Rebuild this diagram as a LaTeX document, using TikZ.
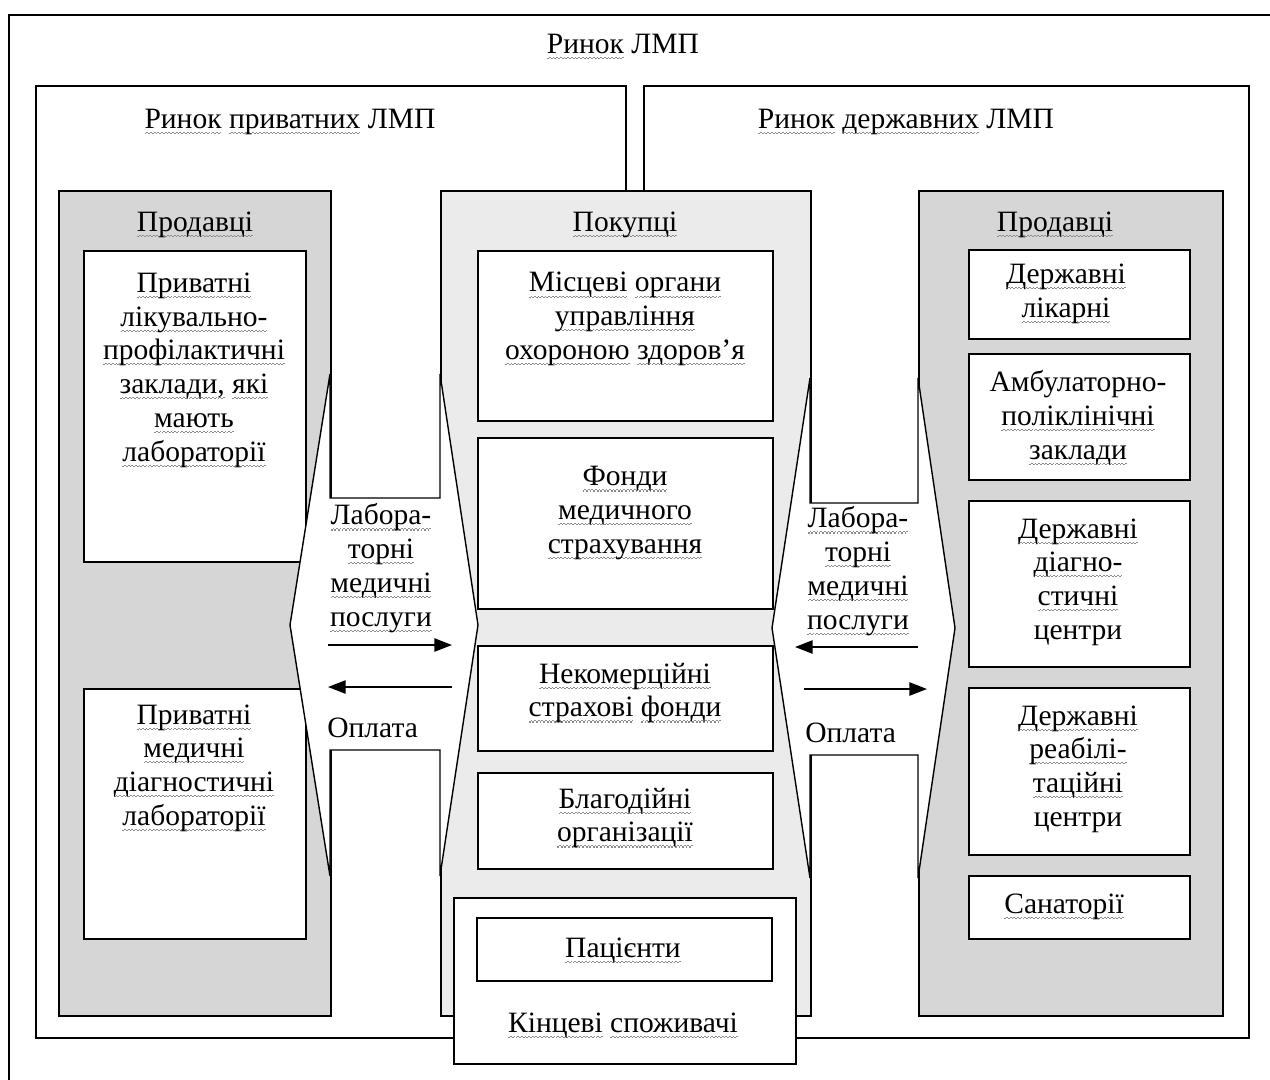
\documentclass[tikz,border=0pt]{standalone}
\usepackage{fontspec}
\setmainfont{Liberation Serif}
\usetikzlibrary{arrows.meta}
\newsavebox\sqbox
\newcommand\sq[1]{\leavevmode\sbox\sqbox{#1}%
  \rlap{\textcolor{black!45}{\raisebox{-3.2pt}{\hbox to \wd\sqbox{\xleaders\hbox to 2pt{\rule[0pt]{1pt}{0.6pt}\rule[0.6pt]{1pt}{0.6pt}}\hfill}}}}%
  \usebox\sqbox}
\begin{document}
\begin{tikzpicture}[x=0.02cm,y=-0.02cm,
 box/.style={draw, line width=1.1pt, fill=white, inner sep=0pt, anchor=north west},
 panel/.style={box, fill=black!16},
 buyer/.style={box, fill=black!8},
 txt/.style={align=center, inner sep=0pt, font=\fontsize{16.8}{19.2}\selectfont,
   execute at begin node=\strut, execute at end node=\strut},
 flow/.style={line width=1pt, -{Triangle[length=10pt,width=7.5pt]}},
 bigarrow/.style={draw, line width=0.8pt, fill=white, line join=miter}]
\useasboundingbox (0,0) rectangle (1270,1079);
\clip (0,0) rectangle (1270,1079);
% frames
\node[box, minimum width=25.64cm, minimum height=21.72cm] (outer) at (8,14) {};
\node[txt] (tall) at (623,47) {\sq{Ринок} ЛМП};
\node[box, minimum width=11.8cm, minimum height=19.04cm] (priv) at (35,85) {};
\node[txt] (tpriv) at (290,122) {\sq{Ринок} \sq{приватних} ЛМП};
\node[box, minimum width=12.1cm, minimum height=19.04cm] (state) at (643,85) {};
\node[txt] (tstate) at (906,122) {\sq{Ринок} \sq{державних} ЛМП};
% panels
\node[panel, minimum width=5.44cm, minimum height=16.5cm] (lsell) at (58,190) {};
\node[txt] (tlsell) at (195,225) {\sq{Продавці}};
\node[panel, minimum width=6.08cm, minimum height=16.5cm] (rsell) at (918,190) {};
\node[txt] (trsell) at (1055,225) {\sq{Продавці}};
\node[buyer, minimum width=7.4cm, minimum height=16.5cm] (buy) at (440,190) {};
\node[txt] (tbuy) at (625,225) {\sq{Покупці}};
% left sellers
\node[box, minimum width=4.44cm, minimum height=6.22cm] (l1) at (83,250) {};
\node[txt] (tl1) at (194,372) {\sq{Приватні}\\\sq{лікувально-}\\\sq{профілактичні}\\\sq{заклади,} \sq{які}\\\sq{мають}\\\sq{лабораторії}};
\node[box, minimum width=4.44cm, minimum height=5.0cm] (l2) at (83,688) {};
\node[txt] (tl2) at (194,770) {\sq{Приватні}\\\sq{медичні}\\\sq{діагностичні}\\\sq{лабораторії}};
% buyers
\node[box, minimum width=5.9cm, minimum height=3.4cm] (b1) at (477,250) {};
\node[txt] (tb1) at (625,321) {\sq{Місцеві} \sq{органи}\\\sq{управління}\\\sq{охороною} \sq{здоров’я}};
\node[box, minimum width=5.9cm, minimum height=3.42cm] (b2) at (477,437) {};
\node[txt] (tb2) at (625,515) {\sq{Фонди}\\\sq{медичного}\\\sq{страхування}};
\node[box, minimum width=5.9cm, minimum height=2.1cm] (b3) at (477,645) {};
\node[txt] (tb3) at (625,695) {\sq{Некомерційні}\\\sq{страхові} \sq{фонди}};
\node[box, minimum width=5.9cm, minimum height=1.92cm] (b4) at (477,772) {};
\node[txt] (tb4) at (625,820) {\sq{Благодійні}\\\sq{організації}};
% right sellers
\node[box, minimum width=4.42cm, minimum height=1.78cm] (r1) at (968,249) {};
\node[txt] (tr1) at (1066,296) {\sq{Державні}\\\sq{лікарні}};
\node[box, minimum width=4.42cm, minimum height=2.52cm] (r2) at (968,353) {};
\node[txt] (tr2) at (1078,420) {Амбулаторно-\\\sq{поліклінічні}\\\sq{заклади}};
\node[box, minimum width=4.42cm, minimum height=3.32cm] (r3) at (968,500) {};
\node[txt] (tr3) at (1078,584) {\sq{Державні}\\\sq{діагно-}\\\sq{стичні}\\центри};
\node[box, minimum width=4.42cm, minimum height=3.34cm] (r4) at (968,687) {};
\node[txt] (tr4) at (1078,771) {\sq{Державні}\\\sq{реабілі-}\\\sq{таційні}\\центри};
\node[box, minimum width=4.42cm, minimum height=1.26cm] (r5) at (968,875) {};
\node[txt] (tr5) at (1064,907) {\sq{Санаторії}};
% big double arrows
\path[bigarrow] (330,374) -- (290,625) -- (330,876) -- (330,750) -- (440,750) -- (440,876)
  -- (478,625) -- (440,374) -- (440,498) -- (330,498) -- cycle;
\path[bigarrow] (810,378) -- (772,628) -- (810,878) -- (810,755) -- (918,755) -- (918,878)
  -- (955,628) -- (918,378) -- (918,503) -- (810,503) -- cycle;
% left flows
\node[txt] (lserv) at (381,570) {\sq{Лабора-}\\\sq{торні}\\\sq{медичні}\\\sq{послуги}};
\node[txt, anchor=west] (lpay) at (327,731) {Оплата};
\coordinate (la1) at (328,645); \coordinate (la2) at (452,645);
\coordinate (lb1) at (452,687); \coordinate (lb2) at (328,687);
\draw[flow] (la1) -- (la2);
\draw[flow] (lb1) -- (lb2);
% right flows
\node[txt] (rserv) at (858,573) {\sq{Лабора-}\\\sq{торні}\\\sq{медичні}\\\sq{послуги}};
\node[txt, anchor=west] (rpay) at (805,736) {Оплата};
\coordinate (ra1) at (918,647); \coordinate (ra2) at (795,647);
\coordinate (rb1) at (804,689); \coordinate (rb2) at (927,689);
\draw[flow] (ra1) -- (ra2);
\draw[flow] (rb1) -- (rb2);
% end consumers
\node[box, minimum width=6.84cm, minimum height=3.32cm] (cons) at (453,897) {};
\node[box, minimum width=5.9cm, minimum height=1.26cm] (pat) at (476,917) {};
\node[txt] (tpat) at (623,951) {\sq{Пацієнти}};
\node[txt] (tcons) at (623,1026) {\sq{Кінцеві} \sq{споживачі}};
\end{tikzpicture}
\end{document}
